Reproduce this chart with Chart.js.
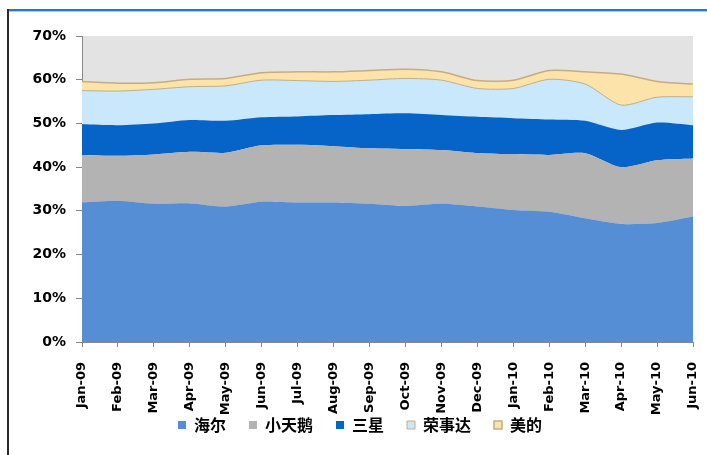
<!DOCTYPE html>
<html>
<head>
<meta charset="utf-8">
<script src="https://cdn.jsdelivr.net/npm/chart.js@4"></script>
<style>
    html, body { margin: 0; padding: 0; background: #fff; }
    #wrap { position: relative; width: 707px; height: 455px; overflow: hidden; }
    #frameTop { position: absolute; left: 7px; top: 9px; width: 700px; height: 2px; background: #1f7ad6; }
    #frameShade { position: absolute; left: 9px; top: 11px; width: 698px; height: 1px; background: #c8c8c8; }
    #frameLeft { position: absolute; left: 7px; top: 9px; width: 2px; height: 446px; background: #2a2a2a; }
    canvas { position: absolute; left: 0; top: 0; }
</style>
</head>
<body>
<div id="wrap">
    <canvas id="shareChart" width="707" height="455"></canvas>
    <div id="frameTop"></div>
    <div id="frameShade"></div>
    <div id="frameLeft"></div>
</div>
<script>
const months = ['Jan-09', 'Feb-09', 'Mar-09', 'Apr-09', 'May-09', 'Jun-09', 'Jul-09', 'Aug-09', 'Sep-09',
    'Oct-09', 'Nov-09', 'Dec-09', 'Jan-10', 'Feb-10', 'Mar-10', 'Apr-10', 'May-10', 'Jun-10'];

const haier     = [31.9, 32.3, 31.6, 31.7, 31.0, 32.1, 31.9, 31.9, 31.6, 31.1, 31.6, 31.0, 30.2, 29.8, 28.3, 27.0, 27.2, 28.7];
const xiaotiane = [10.9, 10.3, 11.3, 11.8, 12.3, 12.9, 13.2, 12.9, 12.7, 13.0, 12.3, 12.2, 12.8, 13.0, 14.9, 13.0, 14.4, 13.3];
const samsung   = [7.0, 7.0, 7.1, 7.3, 7.3, 6.4, 6.5, 7.1, 7.8, 8.2, 8.0, 8.3, 8.2, 8.1, 7.4, 8.5, 8.6, 7.6];
const rongshida = [7.7, 7.8, 7.8, 7.6, 8.0, 8.5, 8.2, 7.7, 7.8, 8.0, 8.0, 6.5, 6.8, 9.2, 8.4, 5.7, 5.8, 6.5];
const midea     = [2.1, 1.8, 1.5, 1.7, 1.7, 1.7, 2.0, 2.2, 2.2, 2.1, 1.9, 1.8, 1.9, 2.0, 2.8, 7.1, 3.6, 2.9];

const yTicks = [0, 10, 20, 30, 40, 50, 60, 70];

// gray plot background
const plotBg = {
    id: 'plotBg',
    beforeDraw(chart) {
        const a = chart.chartArea;
        const ctx = chart.ctx;
        ctx.save();
        ctx.fillStyle = '#e3e3e3';
        ctx.fillRect(a.left, a.top, a.right - a.left, a.bottom - a.top);
        ctx.restore();
    }
};

// legend sits a bit closer to the rotated month labels
const legendUp = {
    id: 'legendUp',
    afterLayout(chart) {
        chart.legend.top -= 24;
    }
};

function series(label, data, color, fill, border, bw) {
    return {
        label: label,
        data: data,
        backgroundColor: color,
        borderColor: border || color,
        borderWidth: bw || 0,
        fill: fill,
        pointRadius: 0,
        tension: 0.25
    };
}

const ctx = document.getElementById('shareChart').getContext('2d');
new Chart(ctx, {
    type: 'line',
    data: {
        labels: months,
        datasets: [
            series('海尔', haier, '#558ed5', 'origin'),
            series('小天鹅', xiaotiane, '#b3b3b3', '-1'),
            series('三星', samsung, '#0664c9', '-1'),
            series('荣事达', rongshida, '#c9e8fc', '-1', '#c4ad84', 1),
            series('美的', midea, '#fbe3a9', '-1', '#c4ad84', 1.5)
        ]
    },
    options: {
        responsive: false,
        animation: false,
        layout: { padding: { left: 27, right: 14, top: 36, bottom: 0 } },
        plugins: {
            tooltip: { enabled: false },
            legend: {
                position: 'bottom',
                maxHeight: 37,
                labels: {
                    boxWidth: 8,
                    boxHeight: 8,
                    padding: 23,
                    color: '#000',
                    font: { family: '"Noto Sans CJK SC"', size: 16, weight: 'bold' }
                }
            }
        },
        scales: {
            x: {
                offset: false,
                afterFit(scale) {
                    scale.height = 76;
                    scale.paddingLeft = 0;
                    scale.paddingRight = 0;
                },
                grid: { drawOnChartArea: false, tickLength: 5, color: '#888' },
                border: { color: '#888' },
                ticks: {
                    autoSkip: false,
                    maxRotation: 90,
                    minRotation: 90,
                    padding: 15,
                    color: '#000',
                    font: { family: '"DejaVu Sans"', size: 13, weight: 'bold' }
                }
            },
            y: {
                stacked: true,
                min: 0,
                max: 70,
                afterFit(scale) { scale.width = 55; },
                afterBuildTicks(scale) { scale.ticks = yTicks.map(v => ({ value: v })); },
                grid: { drawOnChartArea: false, tickLength: 6, color: '#888' },
                border: { color: '#888' },
                ticks: {
                    padding: 10,
                    color: '#000',
                    font: { family: '"DejaVu Sans"', size: 14, weight: 'bold' },
                    callback: v => v + '%'
                }
            }
        }
    },
    plugins: [plotBg, legendUp]
});
</script>
</body>
</html>
